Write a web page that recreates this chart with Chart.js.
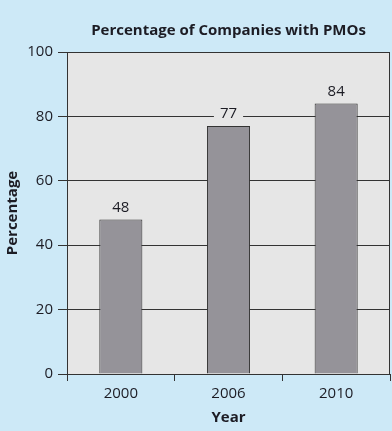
<!DOCTYPE html>
<html>
<head>
<meta charset="utf-8">
<script src="https://cdn.jsdelivr.net/npm/chart.js@4/dist/chart.umd.min.js"></script>
<style>
  html, body { margin: 0; padding: 0; background: #cde9f7; }
  #wrap { width: 392px; height: 431px; }
</style>
</head>
<body>
<div id="wrap"><canvas id="pmoChart" width="392" height="431"></canvas></div>
<script>
// Chart data
const years = ['2000', '2006', '2010'];
const percentages = [48, 77, 84];
const yTicks = [0, 20, 40, 60, 80, 100];
const chartTitle = 'Percentage of Companies with PMOs';

const plotBg = '#e6e6e6';
const lineColor = '#333333';
const textColor = '#1c1c24';
const fontFamily = '"Open Sans", "Noto Sans", sans-serif';

// Fill the plot area, frame it, and put the title centred over it
const plotFrame = {
  id: 'plotFrame',
  beforeDraw(chart) {
    const { ctx, chartArea: a } = chart;
    ctx.save();
    ctx.fillStyle = plotBg;
    ctx.fillRect(a.left, a.top, a.right - a.left, a.bottom - a.top);
    ctx.restore();
  },
  afterDraw(chart) {
    const { ctx, chartArea: a } = chart;
    ctx.save();
    ctx.strokeStyle = lineColor;
    ctx.lineWidth = 1;
    ctx.strokeRect(a.left + 0.5, a.top + 0.5, a.right - a.left - 1, a.bottom - a.top);
    ctx.fillStyle = textColor;
    ctx.font = 'bold 15px ' + fontFamily;
    ctx.textAlign = 'center';
    ctx.textBaseline = 'middle';
    ctx.fillText(chartTitle, (a.left + a.right) / 2, 31);
    ctx.restore();
  }
};

// Value labels above the bars, with a box that hides the grid line behind them
const valueLabels = {
  id: 'valueLabels',
  afterDatasetsDraw(chart) {
    const { ctx } = chart;
    const meta = chart.getDatasetMeta(0);
    ctx.save();
    ctx.font = '15px ' + fontFamily;
    ctx.textAlign = 'center';
    ctx.textBaseline = 'middle';
    meta.data.forEach((bar, i) => {
      const txt = String(percentages[i]);
      const w = ctx.measureText(txt).width + 12;
      const y = bar.y - 12;
      ctx.fillStyle = plotBg;
      ctx.fillRect(bar.x - w / 2, y - 8, w, 16);
      ctx.fillStyle = textColor;
      ctx.fillText(txt, bar.x, y);
    });
    ctx.restore();
  }
};

const ctx = document.getElementById('pmoChart').getContext('2d');
new Chart(ctx, {
  type: 'bar',
  data: {
    labels: years,
    datasets: [{
      data: percentages,
      backgroundColor: '#959399',
      borderColor: lineColor,
      borderWidth: 1,
      barPercentage: 0.4,
      categoryPercentage: 1
    }]
  },
  options: {
    responsive: false,
    animation: false,
    layout: { padding: { top: 52, right: 2, bottom: 0, left: 0 } },
    plugins: {
      legend: { display: false },
      tooltip: { enabled: false },
      title: { display: false }
    },
    scales: {
      x: {
        grid: { offset: true, drawOnChartArea: false, drawTicks: true, tickLength: 7, color: lineColor },
        border: { display: false },
        ticks: { color: textColor, padding: 4, font: { family: fontFamily, size: 15 } },
        title: {
          display: true, text: 'Year', color: textColor, padding: { top: 1, bottom: 4 },
          font: { family: fontFamily, size: 15, weight: 'bold' }
        },
        afterFit(scale) { scale.height = 57; }
      },
      y: {
        min: 0,
        max: 100,
        afterBuildTicks(scale) { scale.ticks = yTicks.map(v => ({ value: v })); },
        grid: { color: lineColor, tickLength: 9 },
        border: { display: false },
        ticks: { color: textColor, padding: 5, font: { family: fontFamily, size: 15 } },
        title: {
          display: true, text: 'Percentage', color: textColor, padding: { top: 4, bottom: 4 },
          font: { family: fontFamily, size: 15, weight: 'bold' }
        },
        afterFit(scale) { scale.width = 67; }
      }
    }
  },
  plugins: [plotFrame, valueLabels]
});
</script>
</body>
</html>
